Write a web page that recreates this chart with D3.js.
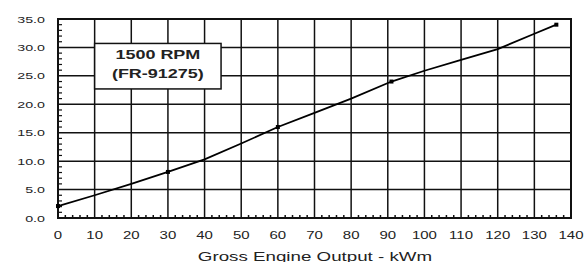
<!DOCTYPE html>
<html>
<head>
<meta charset="utf-8">
<script src="https://cdn.jsdelivr.net/npm/d3@7"></script>
<style>
  body { margin: 0; background: #fff; }
  text { font-family: "Liberation Sans", Arial, sans-serif; fill: #222; }
</style>
</head>
<body>
<script>
// values
var output_kw = [0, 10, 20, 30, 40, 50, 60, 70, 80, 91, 100, 110, 120, 130, 136];
var fuel_value = [2.1, 4.0, 6.0, 8.1, 10.3, 13.1, 16.0, 18.5, 21.0, 24.0, 25.9, 27.8, 29.7, 32.4, 34.0];
var marker_kw = [0, 30, 60, 91, 136];
var x_ticks = [0, 10, 20, 30, 40, 50, 60, 70, 80, 90, 100, 110, 120, 130, 140];
var y_ticks = [0, 5, 10, 15, 20, 25, 30, 35];
var box_lines = ['1500 RPM', '(FR-91275)'];
var x_title = 'Gross Engine Output - kWm';

var screen = { width: 587, height: 262 };
var margins = { left: 58, top: 19, right: 16, bottom: 44 };
var stretch = 1.5; // the picture is wider than it is tall, text looks stretched

var svg = d3.select('body').append('svg')
            .attr('width', screen.width)
            .attr('height', screen.height);

var xScale = d3.scaleLinear()
               .domain([0, 140])
               .range([margins.left, screen.width - margins.right]);
var yScale = d3.scaleLinear()
               .domain([0, 35])
               .range([screen.height - margins.bottom, margins.top]);

// put a text at x,y and widen it
var addText = function(g, str, x, y, size, anchor, weight){
  return g.append('text')
          .attr('transform', 'translate(' + x + ',' + y + ') scale(' + stretch + ',1)')
          .attr('text-anchor', anchor)
          .attr('font-size', size)
          .attr('font-weight', weight || 'normal')
          .text(str);
}

var grid = svg.append('g').classed('grid', true);
x_ticks.forEach(function(t){
  grid.append('line')
      .attr('x1', xScale(t)).attr('x2', xScale(t))
      .attr('y1', yScale(0)).attr('y2', yScale(35))
      .attr('stroke', '#111').attr('stroke-width', 1.5);
})
y_ticks.forEach(function(t){
  grid.append('line')
      .attr('x1', xScale(0)).attr('x2', xScale(140))
      .attr('y1', yScale(t)).attr('y2', yScale(t))
      .attr('stroke', '#111').attr('stroke-width', 1.5);
})

// minor ticks inside the frame
var minor = svg.append('g').classed('minor', true);
d3.range(0, 35, 1).forEach(function(v){
  if (v % 5 == 0) return;
  minor.append('line')
       .attr('x1', xScale(0)).attr('x2', xScale(0) + 4)
       .attr('y1', yScale(v)).attr('y2', yScale(v))
       .attr('stroke', '#111').attr('stroke-width', 1.2);
})
d3.range(0, 140, 2).forEach(function(v){
  if (v % 10 == 0) return;
  minor.append('line')
       .attr('x1', xScale(v)).attr('x2', xScale(v))
       .attr('y1', yScale(0)).attr('y2', yScale(0) - 3)
       .attr('stroke', '#111').attr('stroke-width', 1.5);
})

// frame
svg.append('rect')
   .attr('x', xScale(0)).attr('y', yScale(35))
   .attr('width', xScale(140) - xScale(0))
   .attr('height', yScale(0) - yScale(35))
   .attr('fill', 'none')
   .attr('stroke', '#111').attr('stroke-width', 2);

// tick labels
var labels = svg.append('g').classed('labels', true);
y_ticks.forEach(function(t){
  addText(labels, d3.format('.1f')(t), 45, yScale(t) + 3.5, 9.5, 'end');
})
x_ticks.forEach(function(t){
  addText(labels, t, xScale(t), 238.5, 10, 'middle');
})
addText(labels, x_title, 315, 261, 12.5, 'middle');

// curve
var points = output_kw.map(function(d, i){ return [d, fuel_value[i]]; });
var line = d3.line()
             .x(function(d){ return xScale(d[0]); })
             .y(function(d){ return yScale(d[1]); });
svg.append('path')
   .datum(points)
   .attr('d', line)
   .attr('fill', 'none')
   .attr('stroke', '#000')
   .attr('stroke-width', 1.8);

svg.append('g').classed('markers', true)
   .selectAll('rect')
   .data(points.filter(function(d){ return marker_kw.indexOf(d[0]) >= 0; }))
   .enter()
   .append('rect')
   .attr('x', function(d){ return xScale(d[0]) - 2; })
   .attr('y', function(d){ return yScale(d[1]) - 2; })
   .attr('width', 4)
   .attr('height', 4)
   .attr('fill', '#000');

// label box
var box = svg.append('g').classed('box', true);
box.append('rect')
   .attr('x', xScale(10)).attr('y', yScale(30.7))
   .attr('width', xScale(44.5) - xScale(10))
   .attr('height', yScale(22.7) - yScale(30.7))
   .attr('fill', '#fff')
   .attr('stroke', '#111').attr('stroke-width', 1.5);
var box_mid = (xScale(10) + xScale(44.5)) / 2;
addText(box, box_lines[0], box_mid, 59.3, 12, 'middle', 'bold');
addText(box, box_lines[1], box_mid, 78.3, 12, 'middle', 'bold');
</script>
</body>
</html>
